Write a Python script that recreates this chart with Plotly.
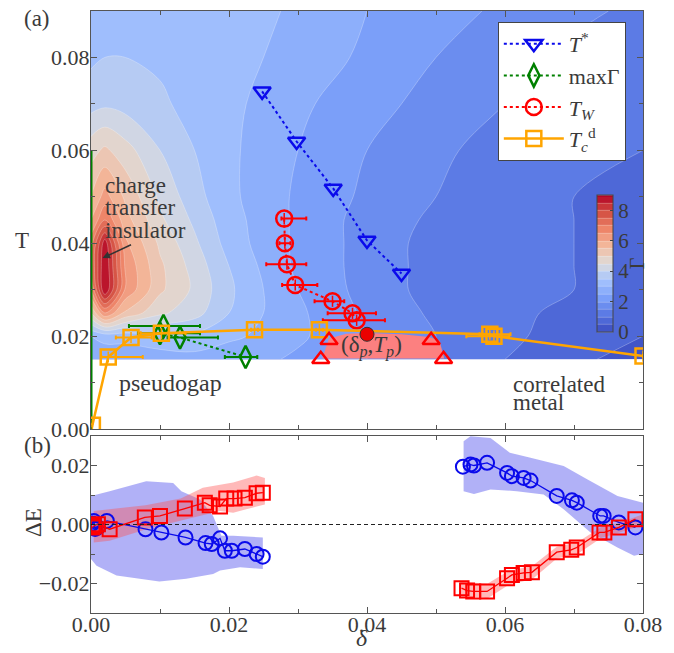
import plotly.graph_objects as go

# ---------------- background Gamma map ----------------
grid_x = [0.0, 0.002, 0.005, 0.01, 0.015, 0.02, 0.025, 0.03, 0.04, 0.05, 0.06, 0.07, 0.08]
grid_T = [0.015, 0.02, 0.025, 0.03, 0.035, 0.04, 0.045, 0.05, 0.06, 0.07, 0.08, 0.09]
# one list per grid_x column, values along grid_T
gamma_cols = [
    [2.5, 3.0, 5.0, 6.5, 7.0, 6.8, 6.0, 5.5, 4.8, 3.8, 3.4, 3.3],
    [2.6, 3.2, 6.5, 9.0, 9.0, 8.8, 7.0, 6.2, 5.1, 3.9, 3.5, 3.4],
    [2.6, 3.2, 5.4, 6.4, 6.4, 6.1, 5.7, 5.4, 4.7, 3.8, 3.5, 3.4],
    [2.7, 3.4, 4.6, 5.1, 5.1, 4.9, 4.6, 4.4, 4.0, 3.6, 3.4, 3.4],
    [2.8, 3.4, 4.2, 4.4, 4.3, 4.1, 3.9, 3.7, 3.5, 3.3, 3.3, 3.4],
    [2.7, 3.1, 3.5, 3.6, 3.5, 3.3, 3.2, 3.1, 3.1, 3.1, 3.1, 3.2],
    [2.6, 2.9, 3.0, 3.0, 2.9, 2.8, 2.8, 2.8, 2.8, 2.9, 3.0, 3.1],
    [2.4, 2.6, 2.6, 2.5, 2.4, 2.4, 2.4, 2.4, 2.5, 2.6, 2.8, 2.9],
    [2.0, 2.0, 1.9, 1.8, 1.8, 1.8, 1.8, 1.9, 2.0, 2.2, 2.4, 2.5],
    [1.5, 1.5, 1.4, 1.3, 1.3, 1.3, 1.4, 1.5, 1.6, 1.8, 2.0, 2.2],
    [1.0, 1.1, 1.1, 1.1, 1.1, 1.1, 1.2, 1.2, 1.3, 1.5, 1.7, 1.9],
    [0.6, 0.8, 0.9, 1.0, 1.0, 1.0, 1.0, 1.0, 1.1, 1.2, 1.4, 1.6],
    [0.3, 0.5, 0.7, 0.8, 0.9, 0.9, 0.9, 0.9, 1.0, 1.1, 1.2, 1.4],
]

# ---------------- panel (a) series ----------------
tstar_x = [0.0248, 0.0298, 0.0351, 0.0400, 0.0450]
tstar_T = [0.0727, 0.0619, 0.0518, 0.0406, 0.0335]

maxg_x = [0.0105, 0.0100, 0.0129, 0.0224]
maxg_T = [0.0222, 0.0206, 0.0197, 0.0155]
maxg_em = [0.0050, 0.0032, 0.0018, 0.0030]
maxg_ep = [0.0053, 0.0058, 0.0055, 0.0017]

tw_x = [0.0280, 0.0281, 0.0284, 0.0296, 0.0350, 0.0379, 0.0385]
tw_T = [0.0453, 0.0400, 0.0355, 0.0310, 0.0275, 0.0249, 0.0234]
tw_em = [0.0004, 0.0008, 0.0030, 0.0019, 0.0026, 0.0036, 0.0049]
tw_ep = [0.0032, 0.0008, 0.0028, 0.0032, 0.0017, 0.0034, 0.0041]

tc_x = [0.0002, 0.0025, 0.0058, 0.0102, 0.0237, 0.0331, 0.0578, 0.0584, 0.0800]
tc_T = [0.0008, 0.0155, 0.0197, 0.0206, 0.0214, 0.0214, 0.0204, 0.0200, 0.0157]
tc_em = [0.0, 0.0010, 0.0022, 0.0030, 0.0005, 0.0005, 0.0015, 0.0040, 0.0]
tc_ep = [0.0, 0.0050, 0.0030, 0.0035, 0.0005, 0.0005, 0.0030, 0.0022, 0.0]

tri_x = [0.0333, 0.0345, 0.0493, 0.0511]
tri_T = [0.0150, 0.0191, 0.0191, 0.0150]

dome_x = [0.0335, 0.0345, 0.0370, 0.0400, 0.0450, 0.0490, 0.0505, 0.0512]
dome_T = [0.0152, 0.0195, 0.0205, 0.0207, 0.0204, 0.0198, 0.0190, 0.0152]

peak_x = [0.0400]
peak_T = [0.0204]

cti_x = [0.0, 0.0]
cti_T = [0.0, 0.060]

# ---------------- panel (b) series ----------------
bl_x = [0.0002, 0.0004, 0.0006, 0.0010, 0.0023, 0.0079, 0.0102, 0.0137, 0.0166, 0.0175,
        0.0187, 0.0194, 0.0204, 0.0223, 0.0240, 0.0249]
bl_y = [0.0003, 0.0012, -0.0015, -0.0010, 0.0012, -0.0016, -0.0027, -0.0044, -0.0063, -0.0066,
        -0.0047, -0.0089, -0.0089, -0.0083, -0.0100, -0.0109]
rl_x = [0.0002, 0.0004, 0.0010, 0.0027, 0.0078, 0.0100, 0.0136, 0.0165, 0.0172, 0.0187,
        0.0196, 0.0208, 0.0223, 0.0240, 0.0249]
rl_y = [-0.0010, -0.0005, 0.0001, -0.0016, 0.0024, 0.0029, 0.0054, 0.0074, 0.0065, 0.0061,
        0.0088, 0.0088, 0.0091, 0.0106, 0.0108]
br_x = [0.0539, 0.0550, 0.0555, 0.0574, 0.0603, 0.0610, 0.0627, 0.0637, 0.0675, 0.0697,
        0.0704, 0.0738, 0.0743, 0.0765, 0.0789]
br_y = [0.0196, 0.0203, 0.0200, 0.0209, 0.0175, 0.0164, 0.0158, 0.0149, 0.0097, 0.0082,
        0.0074, 0.0029, 0.0029, 0.0007, -0.0010]
rr_x = [0.0537, 0.0545, 0.0554, 0.0574, 0.0603, 0.0610, 0.0627, 0.0639, 0.0675, 0.0696,
        0.0704, 0.0737, 0.0744, 0.0765, 0.0789]
rr_y = [-0.0216, -0.0224, -0.0227, -0.0227, -0.0182, -0.0171, -0.0164, -0.0162, -0.0094, -0.0086,
        -0.0078, -0.0027, -0.0027, -0.0010, 0.0018]

# uncertainty bands
bbl_x_up = [0.0, 0.0027, 0.0080, 0.0119, 0.0131, 0.0158, 0.0177, 0.0189, 0.0206, 0.0249]
bbl_up = [0.0097, 0.0113, 0.0147, 0.0141, 0.0113, 0.0085, 0.0029, -0.0038, -0.0038, -0.0044]
bbl_x_lo = [0.0, 0.0008, 0.0037, 0.0099, 0.0138, 0.0177, 0.0187, 0.0216, 0.0249]
bbl_lo = [-0.0117, -0.0140, -0.0173, -0.0193, -0.0184, -0.0168, -0.0156, -0.0145, -0.0151]

rbl_x_up = [0.0004, 0.0079, 0.0130, 0.0162, 0.0206, 0.0240, 0.0252]
rbl_up = [0.0046, 0.0065, 0.0088, 0.0125, 0.0142, 0.0166, 0.0158]
rbl_x_lo = [0.0004, 0.0027, 0.0080, 0.0138, 0.0187, 0.0206, 0.0240, 0.0252]
rbl_lo = [-0.0061, -0.0055, -0.0016, 0.0018, 0.0046, 0.0040, 0.0061, 0.0068]

brb_x_up = [0.0540, 0.0550, 0.0579, 0.0607, 0.0637, 0.0685, 0.0719, 0.0763, 0.0800]
brb_up = [0.0282, 0.0299, 0.0293, 0.0243, 0.0226, 0.0198, 0.0153, 0.0097, 0.0074]
brb_x_lo = [0.0540, 0.0555, 0.0579, 0.0617, 0.0656, 0.0685, 0.0724, 0.0763, 0.0787, 0.0800]
brb_lo = [0.0113, 0.0103, 0.0119, 0.0113, 0.0102, 0.0052, -0.0027, -0.0078, -0.0106, -0.0099]

rrb_x = [0.0535, 0.0575, 0.0605, 0.0640, 0.0675, 0.0705, 0.0740, 0.0765, 0.0800]
rrb_up = [-0.0195, -0.0200, -0.0158, -0.0140, -0.0075, -0.0060, -0.0008, 0.0005, 0.0035]
rrb_lo = [-0.0240, -0.0250, -0.0205, -0.0185, -0.0115, -0.0100, -0.0045, -0.0028, -0.0002]

# ---------------- styling ----------------
FONT = "Liberation Serif, Times New Roman, DejaVu Serif, serif"
TXT = "#3a3a3a"
FRAME = "#555555"
BLUE = "rgb(10,10,235)"
GREEN = "rgb(0,128,0)"
RED = "rgb(255,0,0)"
ORANGE = "rgb(255,165,0)"

coolwarm = [[0.0, "rgb(59,76,192)"], [0.125, "rgb(88,118,226)"], [0.25, "rgb(123,159,249)"],
            [0.375, "rgb(163,194,254)"], [0.5, "rgb(221,220,220)"], [0.625, "rgb(244,187,158)"],
            [0.75, "rgb(238,133,105)"], [0.875, "rgb(211,79,66)"], [1.0, "rgb(180,4,38)"]]

z = [[col[j] for col in gamma_cols] for j in range(len(grid_T))]

fig = go.Figure()

fig.add_trace(go.Contour(
    x=grid_x, y=grid_T, z=z, xaxis="x", yaxis="y",
    colorscale=coolwarm, zmin=0, zmax=9, autocontour=False,
    contours=dict(start=0, end=9, size=0.5, coloring="fill"),
    line=dict(width=0.6, color="rgba(255,255,255,0.45)", smoothing=1.0),
    showlegend=False, hoverinfo="skip",
    colorbar=dict(x=0.9167, xanchor="left", xpad=0, ypad=0, y=0.5806, yanchor="middle",
                  thickness=16, len=137, lenmode="pixels", outlinewidth=1, outlinecolor="#444",
                  tickvals=[0, 2, 4, 6, 8], ticks="inside", ticklen=3, tickcolor="#444",
                  tickfont=dict(family=FONT, size=21, color=TXT)),
))


def poly(xu, yu, xl, yl):
    return list(xu) + list(reversed(xl)), list(yu) + list(reversed(yl))


# pink dome region
fig.add_trace(go.Scatter(x=dome_x, y=dome_T, xaxis="x", yaxis="y", mode="none", fill="toself",
                         fillcolor="rgb(252,128,128)", showlegend=False, hoverinfo="skip"))

# green vertical line at delta = 0
fig.add_trace(go.Scatter(x=cti_x, y=cti_T, xaxis="x", yaxis="y", mode="lines",
                         line=dict(color=GREEN, width=3), showlegend=False, cliponaxis=False))

fig.add_trace(go.Scatter(
    x=tstar_x, y=tstar_T, xaxis="x", yaxis="y", mode="lines+markers", name="<i>T</i><sup>*</sup>",
    line=dict(color=BLUE, width=2, dash="dot"),
    marker=dict(symbol="triangle-down-open", size=15, color=BLUE, line=dict(width=2.5, color=BLUE))))

fig.add_trace(go.Scatter(
    x=maxg_x, y=maxg_T, xaxis="x", yaxis="y", mode="lines+markers", name="maxΓ",
    line=dict(color=GREEN, width=2, dash="dot"),
    error_x=dict(type="data", symmetric=False, array=maxg_ep, arrayminus=maxg_em,
                 color=GREEN, thickness=2, width=2),
    marker=dict(symbol="diamond-tall-open", size=16, color=GREEN, line=dict(width=2.5, color=GREEN))))

fig.add_trace(go.Scatter(
    x=tw_x, y=tw_T, xaxis="x", yaxis="y", mode="lines+markers", name="<i>T</i><sub><i>W</i></sub>",
    line=dict(color=RED, width=2, dash="dot"),
    error_x=dict(type="data", symmetric=False, array=tw_ep, arrayminus=tw_em,
                 color=RED, thickness=2, width=2),
    error_y=dict(type="constant", value=0.0012, color=RED, thickness=1.5, width=0),
    marker=dict(symbol="circle-open", size=16, color=RED, line=dict(width=2.5, color=RED))))

fig.add_trace(go.Scatter(
    x=tc_x, y=tc_T, xaxis="x", yaxis="y", mode="lines+markers",
    name="<i>T</i><sub><i>c</i></sub><sup>d</sup>",
    line=dict(color=ORANGE, width=2.5),
    error_x=dict(type="data", symmetric=False, array=tc_ep, arrayminus=tc_em,
                 color=ORANGE, thickness=2, width=2),
    error_y=dict(type="constant", value=0.0012, color=ORANGE, thickness=1.5, width=0),
    marker=dict(symbol="square-open", size=15, color=ORANGE, line=dict(width=2.5, color=ORANGE))))

fig.add_trace(go.Scatter(x=tri_x, y=tri_T, xaxis="x", yaxis="y", mode="markers", showlegend=False,
                         marker=dict(symbol="triangle-up-open", size=15, color=RED,
                                     line=dict(width=2.5, color=RED))))

fig.add_trace(go.Scatter(x=peak_x, y=peak_T, xaxis="x", yaxis="y", mode="markers", showlegend=False,
                         marker=dict(symbol="circle", size=14, color="rgb(235,0,0)",
                                     line=dict(width=1, color="#333"))))

# ---------------- panel (b) ----------------
for xu, yu, xl, yl, col in [
    (bbl_x_up, bbl_up, bbl_x_lo, bbl_lo, "rgba(100,100,240,0.5)"),
    (brb_x_up, brb_up, brb_x_lo, brb_lo, "rgba(100,100,240,0.5)"),
    (rbl_x_up, rbl_up, rbl_x_lo, rbl_lo, "rgba(255,80,80,0.4)"),
    (rrb_x, rrb_up, rrb_x, rrb_lo, "rgba(255,80,80,0.4)"),
]:
    px_, py_ = poly(xu, yu, xl, yl)
    fig.add_trace(go.Scatter(x=px_, y=py_, xaxis="x2", yaxis="y2", mode="none", fill="toself",
                             fillcolor=col, showlegend=False, hoverinfo="skip"))

for xs, ys, col, sym in [(bl_x, bl_y, BLUE, "circle-open"), (br_x, br_y, BLUE, "circle-open"),
                         (rl_x, rl_y, RED, "square-open"), (rr_x, rr_y, RED, "square-open")]:
    fig.add_trace(go.Scatter(x=xs, y=ys, xaxis="x2", yaxis="y2", mode="lines+markers",
                             showlegend=False, line=dict(color=col, width=1.3),
                             marker=dict(symbol=sym, size=14, color=col, line=dict(width=2, color=col))))

# ---------------- layout ----------------
axis_common = dict(showgrid=False, zeroline=False, showline=True, linecolor=FRAME, linewidth=1,
                   mirror="allticks", ticks="inside", ticklen=6, tickcolor=FRAME,
                   tickfont=dict(family=FONT, size=22, color=TXT))

y_top_dom = [0.3056, 1.0]
y_bot_dom = [0.0, 0.294]

fig.update_layout(
    width=674, height=653, margin=dict(l=91, r=31, t=11, b=40),
    paper_bgcolor="white", plot_bgcolor="white",
    xaxis=dict(axis_common, domain=[0, 1], anchor="y", range=[0, 0.08], dtick=0.02,
               showticklabels=False,
               minor=dict(ticks="inside", ticklen=4, dtick=0.01, tickcolor=FRAME)),
    yaxis=dict(axis_common, domain=y_top_dom, anchor="x", range=[0, 0.09], dtick=0.02,
               tickformat=".2f", ticklabelstandoff=-4,
               minor=dict(ticks="inside", ticklen=4, dtick=0.01, tickcolor=FRAME)),
    xaxis2=dict(axis_common, domain=[0, 1], anchor="y2", range=[0, 0.08], dtick=0.02,
                tickformat=".2f", ticklabelstandoff=-8,
                minor=dict(ticks="inside", ticklen=4, dtick=0.01, tickcolor=FRAME)),
    yaxis2=dict(axis_common, domain=y_bot_dom, anchor="x2", range=[-0.03, 0.03], dtick=0.02,
                tickformat=".2f", ticklabelstandoff=-4,
                minor=dict(ticks="inside", ticklen=4, dtick=0.01, tickcolor=FRAME)),
    legend=dict(x=0.737, y=0.9817, xanchor="left", yanchor="top", bgcolor="white",
                bordercolor="#444", borderwidth=1, tracegroupgap=0,
                font=dict(family=FONT, size=22, color=TXT), itemwidth=60),
    shapes=[dict(type="line", xref="x2", yref="y2", x0=0, x1=0.08, y0=0, y1=0,
                 line=dict(color="#222", width=1, dash="4px,3px"))],
)

ann = []


def txt(text, x, y, size=23, xref="paper", yref="paper", xanchor="center", angle=0, italic=False):
    if italic:
        text = "<i>" + text + "</i>"
    ann.append(dict(text=text, x=x, y=y, xref=xref, yref=yref, xanchor=xanchor, yanchor="middle",
                    showarrow=False, textangle=angle, font=dict(family=FONT, size=size, color=TXT)))


txt("(a)", -0.0978, 0.988, size=23)
txt("(b)", -0.0978, 0.279, size=23)
txt("T", -0.125, 0.6196, size=23)
txt("ΔE", -0.105, 0.1495, size=23, angle=-90)
txt("δ", 0.491, -0.041, size=24, italic=True)
txt("Γ", 0.989, 0.581, size=20, angle=-90)
txt("charge", 0.00167, 0.0525, size=23, xref="x", yref="y", xanchor="left")
txt("transfer", 0.00167, 0.0477, size=23, xref="x", yref="y", xanchor="left")
txt("insulator", 0.00167, 0.0428, size=23, xref="x", yref="y", xanchor="left")
txt("pseudogap", 0.0037, 0.0099, size=24, xref="x", yref="y", xanchor="left")
txt("correlated", 0.0608, 0.0096, size=23, xref="x", yref="y", xanchor="left")
txt("metal", 0.0608, 0.0058, size=23, xref="x", yref="y", xanchor="left")
txt("(δ<sub><i>p</i></sub>,<i>T</i><sub><i>p</i></sub>)", 0.0406, 0.0178, size=23,
    xref="x", yref="y")
ann.append(dict(x=0.00167, y=0.0368, xref="x", yref="y", text="", showarrow=True,
                ax=30, ay=-14, arrowhead=2, arrowsize=1, arrowwidth=1.5, arrowcolor="#333"))

fig.update_layout(annotations=ann)

fig.write_html("out.html", config={"displayModeBar": False},
               post_script="document.body.style.margin='0px';")
